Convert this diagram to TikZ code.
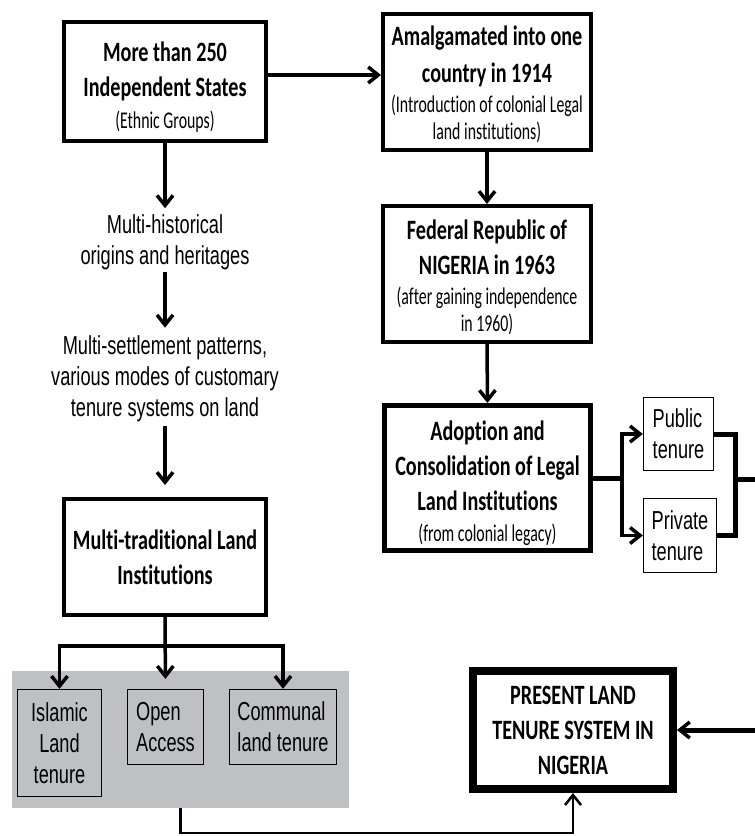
\documentclass[tikz,border=0pt]{standalone}
\usepackage{fontspec}
\usetikzlibrary{arrows.meta,calc}
\newfontfamily\calfont[FakeStretch=0.72,Ligatures=NoCommon]{Carlito}
\newfontfamily\calsubfont[FakeStretch=0.66,Ligatures=NoCommon]{Carlito}
\newfontfamily\arifont[FakeStretch=0.7]{Liberation Sans}
\newcommand\ttl{\calfont\bfseries\fontsize{28}{35}\selectfont}
\newcommand\sbt{\calsubfont\mdseries\fontsize{24}{26}\selectfont}
\newcommand\bodyfont{\arifont\fontsize{26}{31}\selectfont}
% extra head room on the first line of a box, lowering its text block
\newcommand\headroom[1][30pt]{\rule{0pt}{#1}}
\definecolor{panelgray}{RGB}{191,192,196}
\begin{document}
\begin{tikzpicture}[x=1pt,y=-1pt,
  box/.style={draw, line width=4pt, align=center, inner sep=0pt, font=\ttl},
  tbox/.style={draw, line width=1.3pt, inner sep=0pt, font=\bodyfont},
  plain/.style={align=center, inner sep=0pt, font=\bodyfont},
  tip/.style={-{Straight Barb[length=10pt,width=16pt,line width=3.5pt]}},
  arr/.style={line width=3.5pt, tip},
  link/.style={line width=5pt},
]
\useasboundingbox (0,0) rectangle (755,836);

% shaded panel holding the customary tenure forms
\node[fill=panelgray, minimum width=337, minimum height=137, inner sep=0pt] (panel) at (180.5,739.5) {};

% left column
\node[box, minimum width=202, minimum height=119] (s1) at (165,81.5)
  {\headroom More than 250\\Independent States\\[-3pt]\sbt (Ethnic Groups)};
\node[plain] (hist) at (165,242) {Multi-historical\\origins and heritages};
\node[plain] (settle) at (165,379) {Multi-settlement patterns,\\various modes of customary\\tenure systems on land};
\node[box, minimum width=202, minimum height=116] (mtli) at (165,557)
  {Multi-traditional Land\\Institutions};

\node[tbox, align=center, minimum width=84, minimum height=107] (islamic) at (59.5,743) {Islamic\\Land\\tenure};
\node[tbox, align=left, minimum width=76, minimum height=75] (open) at (165.5,727) {Open\\Access};
\node[tbox, align=left, minimum width=107, minimum height=75] (comm) at (283,727) {Communal\\land tenure};

% right column
\node[box, minimum width=208, minimum height=136] (s2) at (487,82)
  {\headroom[24pt]Amalgamated into one\\[2pt]country in 1914\\[-5pt]\sbt (Introduction of colonial Legal\\[-8pt]\sbt land institutions)};
\node[box, minimum width=208, minimum height=136] (s3) at (487,274)
  {\headroom[26pt]Federal Republic of\\NIGERIA in 1963\\[-5pt]\sbt (after gaining independence\\[-8pt]\sbt in 1960)};
\node[box, line width=5pt, minimum width=206, minimum height=145] (s4) at (487.5,478)
  {\headroom Adoption and\\Consolidation of Legal\\Land Institutions\\[-4pt]\sbt (from colonial legacy)};
\node[tbox, align=left, minimum width=70, minimum height=73] (pub) at (678.5,434) {Public\\tenure};
\node[tbox, align=left, minimum width=73, minimum height=74] (priv) at (680,535.5) {Private\\tenure};

\node[box, line width=8pt, minimum width=200, minimum height=118] (present) at (573,730)
  {PRESENT LAND\\TENURE SYSTEM IN\\NIGERIA};

% connectors, left column
\draw[arr] ($(s1.east)+(0,-6.5)$) -- ($(s2.west)+(0,-7)$);
\draw[arr, shorten >=6pt] (s1.south) -- (hist.north);
\draw[arr, shorten <=2pt, shorten >=8pt] (hist.south) -- (settle.north);
\draw[arr, shorten <=4pt, shorten >=12pt] (settle.south) -- (mtli.north);
\coordinate (br) at ($(mtli.south)+(0,29)$);
\draw[arr, shorten >=10pt] (mtli.south) -- (open.north);
\draw[arr] (br) -| (islamic.north);
\draw[arr] (br) -| (comm.north);
\draw[line width=2.5pt, -{Straight Barb[length=10pt,width=16pt,line width=2.5pt]}]
  (panel.south) -- ($(panel.south)+(0,25)$) -| (present.south);

% connectors, right column
\draw[arr] (s2.south) -- (s3.north);
\draw[arr] (s3.south) -- (s4.north);
\coordinate (fork) at (622,478);
\draw[link] (s4.east) -- (fork);
\draw[arr] (fork) |- (pub.west);
\draw[arr] (fork) |- (priv.west);
\coordinate (join) at (735,479);
\draw[link] (pub.east) -| (join);
\draw[link] (priv.east) -| (join);
\coordinate (offpage) at (770,479);
\draw[link, tip] (join) -- (offpage) |- (present.east);
\end{tikzpicture}
\end{document}
